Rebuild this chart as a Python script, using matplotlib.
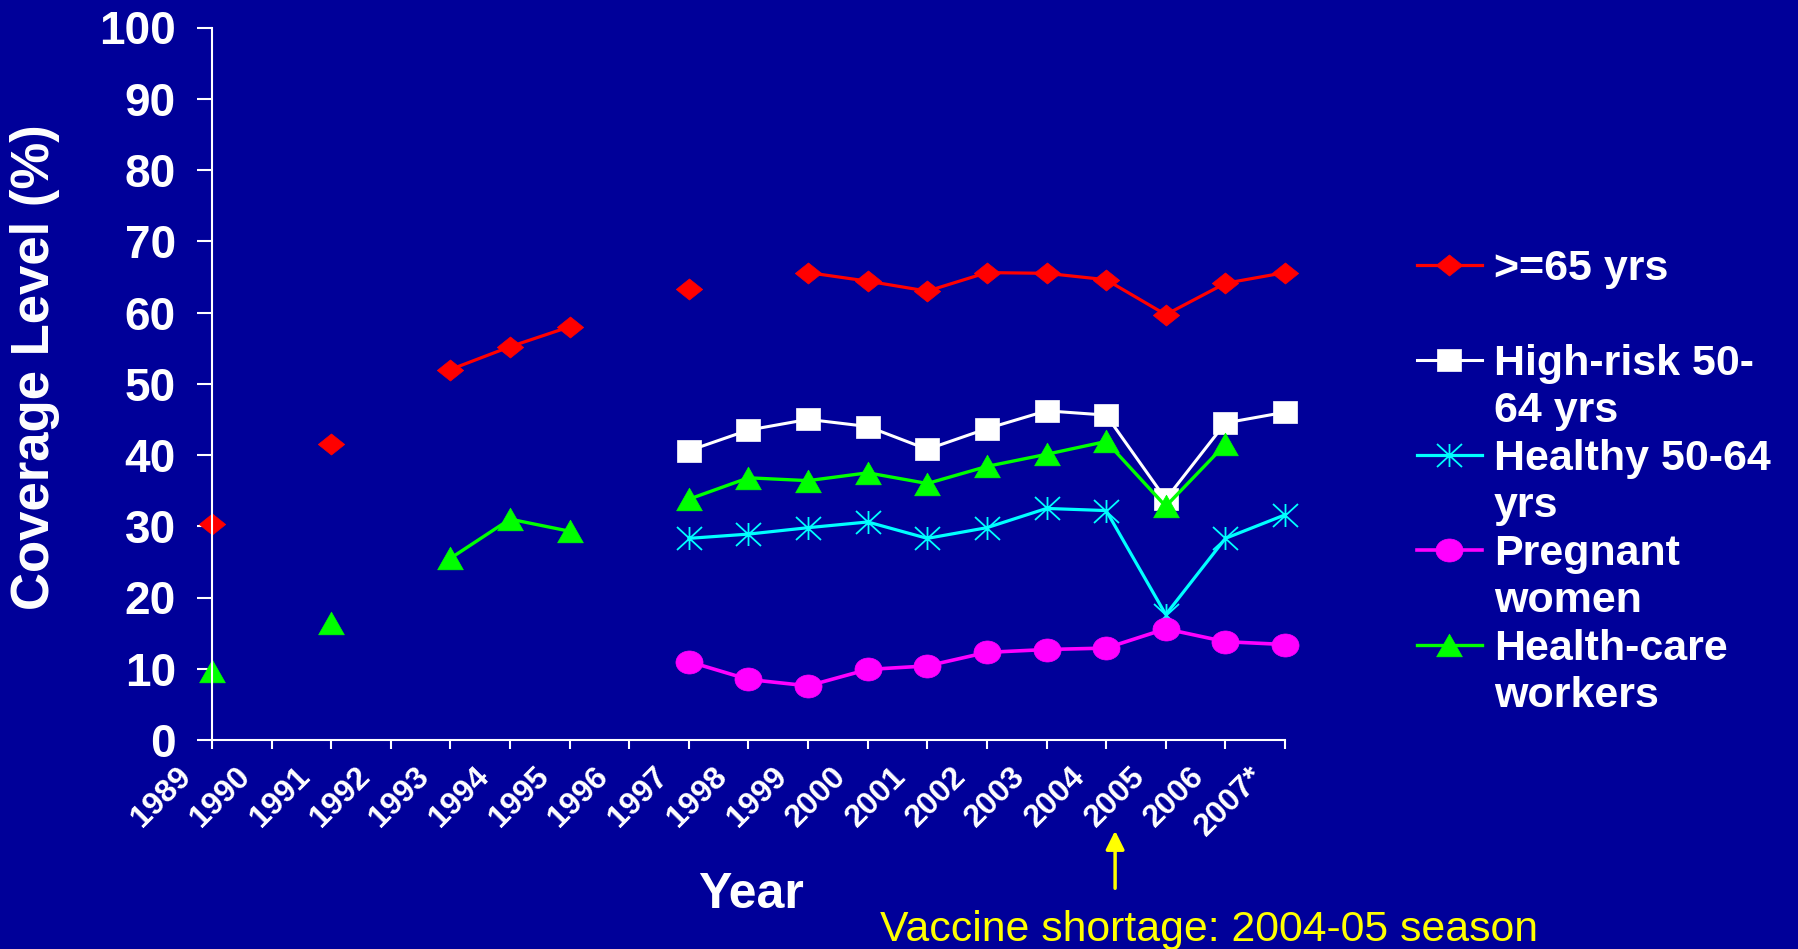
import numpy as np
import matplotlib
matplotlib.use('Agg')
import matplotlib.pyplot as plt
from matplotlib.path import Path
from matplotlib.lines import Line2D
from matplotlib.transforms import ScaledTranslation

nan = np.nan

# data
years = ['1989', '1990', '1991', '1992', '1993', '1994', '1995', '1996', '1997', '1998',
         '1999', '2000', '2001', '2002', '2003', '2004', '2005', '2006', '2007*']
over65 = [30.3, nan, 41.6, nan, 52.0, 55.2, 58.0, nan, 63.3, nan,
          65.6, 64.4, 63.0, 65.6, 65.5, 64.6, 59.7, 64.1, 65.6]
high_risk = [nan, nan, nan, nan, nan, nan, nan, nan, 40.6, 43.5,
             45.0, 44.0, 40.8, 43.7, 46.2, 45.6, 33.8, 44.5, 46.0]
healthy = [nan, nan, nan, nan, nan, nan, nan, nan, 28.3, 28.9,
           29.8, 30.6, 28.3, 29.8, 32.5, 32.2, 17.6, 28.3, 31.6]
pregnant = [nan, nan, nan, nan, nan, nan, nan, nan, 11.0, 8.5,
            7.6, 9.9, 10.4, 12.3, 12.7, 12.9, 15.6, 13.8, 13.4]
hcw = [9.7, nan, 16.4, nan, 25.5, 31.0, 29.3, nan, 33.8, 36.8,
       36.4, 37.5, 36.0, 38.4, 40.1, 41.9, 32.8, 41.5, nan]

yticks = list(range(0, 101, 10))
shortage_x = 15.15  # arrow position, between 2004 and 2005

BG = '#000099'
plt.rcParams['font.family'] = ['Liberation Sans', 'DejaVu Sans']

# slightly wide markers like the original
M, L, C = Path.MOVETO, Path.LINETO, Path.CLOSEPOLY
circ = Path.unit_circle()
ellipse = Path(circ.vertices * [1, 0.85], circ.codes)
square = Path([(-1, -0.88), (1, -0.88), (1, 0.88), (-1, 0.88), (-1, -0.88)], [M, L, L, L, C])
triangle = Path([(0, 0.88), (-1, -0.88), (1, -0.88), (0, 0.88)], [M, L, L, C])
diamond = Path([(-1, 0), (0, 0.8), (1, 0), (0, -0.8), (-1, 0)], [M, L, L, L, C])
aster = Path([(0, -0.92), (0, 0.92), (-1, -0.92), (1, 0.92), (-1, 0.92), (1, -0.92)],
             [M, L, M, L, M, L])

fig = plt.figure(figsize=(17.99, 9.49), dpi=100, facecolor=BG)
ax = fig.add_axes([212 / 1799, 209 / 949, 1073 / 1799, 712.5 / 949])
ax.set_facecolor(BG)

x = np.arange(len(years))
l1, = ax.plot(x, over65, color='#ff0000', lw=2.3, marker=diamond, ms=19, mew=0.5, clip_on=False)
l2, = ax.plot(x, high_risk, color='white', lw=2.2, marker=square, ms=17.5, mew=0.5, clip_on=False)
l3, = ax.plot(x, healthy, color='#00ffff', lw=2.3, marker=aster, ms=18, mew=1.3,
              mfc='none', mec='#00ffff', clip_on=False)
l4, = ax.plot(x, pregnant, color='#ff00ff', lw=2.6, marker=ellipse, ms=19.5, mew=0.5, clip_on=False)
l5, = ax.plot(x, hcw, color='#00ff00', lw=2.4, marker=triangle, ms=18.5, mew=0.5, clip_on=False)

ax.set_xlim(0, len(years) - 1)
ax.set_ylim(0, 100)
ax.set_xticks(x)
ax.set_xticklabels(years, rotation=45, ha='right', va='top', fontsize=23, fontweight='bold', color='white')
ax.set_yticks(yticks)
ax.set_yticklabels([str(t) for t in yticks], fontsize=33, fontweight='bold', color='white')
ax.tick_params(axis='y', direction='out', length=11, width=1.5, color='white', pad=15)
ax.tick_params(axis='x', direction='out', length=6.5, width=1.5, color='white', pad=9)
shift = ScaledTranslation(-0.15, 0, fig.dpi_scale_trans)
for lab in ax.get_xticklabels():
    lab.set_transform(lab.get_transform() + shift)

for side in ['top', 'right']:
    ax.spines[side].set_visible(False)
for side in ['left', 'bottom']:
    ax.spines[side].set_color('white')
    ax.spines[side].set_linewidth(1.5)

ax.set_xlabel('Year', fontsize=36, fontweight='bold', color='white')
ax.xaxis.set_label_coords(0.502, -0.2175)
ax.xaxis.label.set_va('center')
ax.set_ylabel('Coverage Level (%)', fontsize=38, fontweight='bold', color='white')
ax.yaxis.set_label_coords(-0.165, 0.5235)
ax.yaxis.label.set_va('center')

# vaccine shortage note
ax.annotate('', xy=(shortage_x, -0.1235), xytext=(shortage_x, -0.212),
            xycoords=ax.get_xaxis_transform(), textcoords=ax.get_xaxis_transform(),
            arrowprops=dict(arrowstyle='-|>', color='yellow', lw=2.5, mutation_scale=28))
fig.text(880 / 1799, 1 - 930 / 949, 'Vaccine shortage: 2004-05 season',
         fontsize=30.8, color='yellow', va='center', ha='left')

blank = Line2D([], [], color='none')
handles = [l1, blank, l2, blank, l3, blank, l4, blank, l5, blank]
labels = ['>=65 yrs', ' ', 'High-risk 50-', '64 yrs', 'Healthy 50-64', 'yrs',
          'Pregnant', 'women', 'Health-care', 'workers']
leg = fig.legend(handles, labels, loc='upper left', bbox_to_anchor=(1417 / 1799, 0.738),
                 frameon=False, fontsize=31, numpoints=1, handlelength=1.5,
                 handletextpad=0.28, labelspacing=0.175, borderpad=0, borderaxespad=0)
for t in leg.get_texts():
    t.set_color('white')
    t.set_fontweight('bold')

fig.savefig('out.png', dpi=100, facecolor=BG)
